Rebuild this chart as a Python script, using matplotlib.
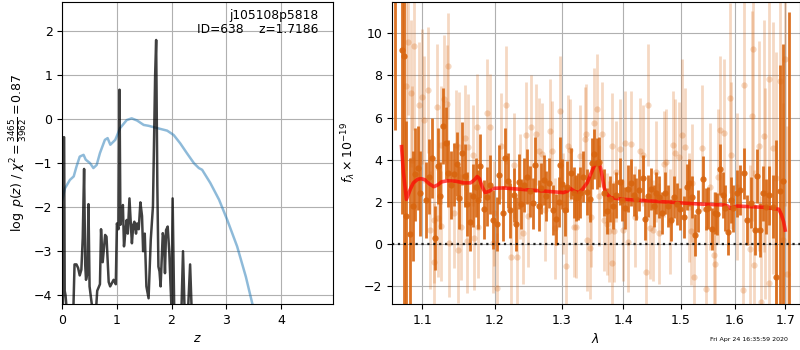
import matplotlib
matplotlib.use("Agg")
from matplotlib import pyplot as plt
from matplotlib.ticker import FixedLocator, FixedFormatter, NullLocator

# ---- left panel: log p(z) ----
z_pz = [0.0, 0.015, 0.025, 0.035, 0.045, 0.06, 0.08, 0.2, 0.225, 0.26,
        0.29, 0.32, 0.35, 0.375, 0.40, 0.42, 0.435, 0.46, 0.48, 0.50,
        0.53, 0.57, 0.62, 0.64, 0.69, 0.71, 0.74, 0.785, 0.81, 0.85,
        0.877, 0.94, 0.98, 1.00, 1.03, 1.048, 1.065, 1.09, 1.11, 1.13,
        1.16, 1.18, 1.20, 1.23, 1.26, 1.275, 1.30, 1.32, 1.35, 1.37,
        1.40, 1.43, 1.46, 1.48, 1.51, 1.54, 1.58, 1.62, 1.66, 1.70,
        1.7186, 1.74, 1.76, 1.78, 1.80, 1.84, 1.86, 1.88, 1.90, 1.93,
        1.96, 1.98, 2.00, 2.02, 2.05, 2.10, 2.18, 2.21, 2.24, 2.30,
        2.34, 2.37, 2.40]
logp = [-5.0, -4.0, -0.41, -0.41, -3.9, -4.0, -4.3, -4.5, -3.3, -3.3,
        -3.38, -3.55, -3.42, -2.7, -1.13, -3.3, -3.65, -3.5, -1.93, -3.8,
        -4.1, -4.5, -4.3, -3.9, -3.75, -2.5, -3.25, -2.63, -2.67, -3.7,
        -3.8, -3.65, -3.75, -2.37, -2.5, 0.67, -2.4, -2.1, -1.95, -2.89,
        -2.5, -2.29, -2.6, -1.8, -2.5, -2.82, -2.4, -2.33, -2.6, -2.37,
        -2.5, -1.89, -2.2, -3.0, -2.6, -3.8, -4.07, -2.74, -1.98, 1.0,
        1.8, -1.5, -3.35, -3.46, -3.8, -2.59, -2.7, -3.5, -2.52, -2.44,
        -3.05, -3.72, -4.3, -1.8, -4.4, -4.6, -4.4, -3.0, -4.4, -4.4,
        -3.3, -4.4, -4.6]

z_chi = [0.0, 0.05, 0.14, 0.21, 0.26, 0.32, 0.39, 0.43, 0.51, 0.57,
         0.63, 0.69, 0.78, 0.83, 0.88, 0.97, 1.06, 1.18, 1.27, 1.37,
         1.49, 1.58, 1.73, 1.92, 2.04, 2.16, 2.28, 2.41, 2.50, 2.56,
         2.71, 2.87, 3.02, 3.20, 3.36, 3.48, 3.60]
chi_curve = [-1.83, -1.57, -1.38, -1.30, -1.08, -0.85, -0.81, -0.92, -1.0, -1.11,
             -1.04, -0.77, -0.47, -0.43, -0.58, -0.47, -0.2, -0.02, 0.02, -0.03,
             -0.13, -0.15, -0.2, -0.26, -0.36, -0.55, -0.77, -1.0, -1.11, -1.15,
             -1.45, -1.83, -2.29, -2.89, -3.58, -4.2, -4.9]

# ---- right panel: spectrum ----
wave_dark = [1.0645, 1.0727, 1.0756, 1.0787, 1.0833, 1.0877, 1.0897, 1.0936, 1.0971, 1.1047,
             1.1088, 1.1124, 1.1170, 1.1202, 1.1233, 1.1274, 1.1311, 1.1343, 1.1380, 1.1425,
             1.1466, 1.1499, 1.1535, 1.1572, 1.1609, 1.1645, 1.1682, 1.1727, 1.1755, 1.1792,
             1.1842, 1.1883, 1.1929, 1.1967, 1.2030, 1.2060, 1.2111, 1.2151, 1.2196, 1.2221,
             1.2271, 1.2312, 1.2352, 1.2387, 1.2422, 1.2473, 1.2512, 1.2553, 1.2593, 1.2648,
             1.2684, 1.2723, 1.2764, 1.2804, 1.2873, 1.2914, 1.2955, 1.2970, 1.3005, 1.3049,
             1.3091, 1.3146, 1.3188, 1.3221, 1.3253, 1.3297, 1.3341, 1.3406, 1.3448, 1.3487,
             1.3513, 1.3557, 1.3589, 1.3675, 1.3731, 1.3773, 1.3828, 1.3882, 1.3946, 1.3979,
             1.4025, 1.4071, 1.4131, 1.4176, 1.4219, 1.4272, 1.4325, 1.4365, 1.4413, 1.4471,
             1.4519, 1.4559, 1.4617, 1.4660, 1.4718, 1.4776, 1.4824, 1.4882, 1.4930, 1.4977,
             1.5061, 1.5105, 1.5147, 1.5197, 1.5258, 1.5319, 1.5405, 1.5455, 1.5492, 1.5565,
             1.5626, 1.5663, 1.5713, 1.5773, 1.5823, 1.5871, 1.5921, 1.5971, 1.6047, 1.6099,
             1.6177, 1.6245, 1.6310, 1.6389, 1.6442, 1.6493, 1.6560, 1.6611, 1.6679, 1.6744,
             1.6823, 1.6888, 1.6955, 1.7085]
flux_dark = [12.0, 9.2, 8.9, 1.33, 0.46, 1.8, 3.3, 3.6, 2.4, 2.1,
             3.2, 4.1, 0.28, 3.7, 2.3, 5.6, 4.8, 3.35, 2.8, 3.3,
             3.8, 2.2, 4.3, 3.25, 1.9, 1.06, 2.3, 2.7, 2.1, 3.7,
             1.65, 2.25, 2.8, 1.14, 0.95, 3.28, 1.46, 4.1, 3.0, 1.6,
             2.33, 0.95, 2.96, 1.9, 2.8, 3.2, 2.5, 1.93, 3.77, 1.82,
             2.64, 3.04, 2.28, 2.9, 1.61, 1.17, 2.0, 3.77, 2.85, 1.6,
             2.72, 3.35, 2.44, 2.17, 2.25, 2.44, 3.2, 2.48, 2.12, 3.83,
             4.27, 3.83, 3.9, 2.44, 1.58, 2.15, 1.8, 2.33, 2.96, 2.09,
             1.69, 2.63, 2.91, 2.34, 2.12, 2.56, 3.12, 1.17, 2.28, 2.6,
             1.8, 2.44, 2.22, 1.46, 2.41, 1.8, 1.14, 2.25, 1.9, 1.65,
             1.27, 2.72, 2.91, 2.25, 0.43, 1.58, 3.07, 1.65, 1.69, 0.7,
             1.46, 1.42, 3.54, 2.33, 1.71, 0.59, 2.09, 1.69, 2.4, 2.56,
             3.35, 1.14, 1.96, 0.66, 3.23, 0.66, 2.4, 1.77, 2.31, 1.77,
             -1.58, 2.5, 3.0, -3.5]
err_dark = [6.6, 7.8, 12.0, 4.5, 3.6, 2.6, 2.2, 2.0, 2.0, 1.8,
            1.8, 1.9, 1.5, 1.8, 1.6, 1.8, 1.7, 1.6, 1.6, 1.5,
            1.5, 1.5, 1.5, 1.5, 1.5, 1.4, 1.5, 1.4, 1.4, 1.5,
            1.4, 1.4, 1.4, 1.4, 1.3, 1.4, 1.3, 1.4, 1.3, 1.3,
            1.3, 1.3, 1.3, 1.2, 1.3, 1.3, 1.2, 1.2, 1.3, 1.2,
            1.2, 1.2, 1.2, 1.2, 1.2, 1.2, 1.2, 1.3, 1.2, 1.2,
            1.2, 1.2, 1.2, 1.1, 1.1, 1.2, 1.2, 1.1, 1.1, 1.2,
            1.2, 1.2, 1.2, 1.1, 1.1, 1.1, 1.1, 1.1, 1.1, 1.0,
            1.0, 1.1, 1.1, 1.0, 1.0, 1.0, 1.1, 1.0, 1.0, 1.0,
            1.0, 1.0, 1.0, 1.0, 1.0, 1.0, 1.0, 1.0, 1.0, 1.0,
            1.0, 1.1, 1.1, 1.0, 1.0, 1.0, 1.1, 1.0, 1.0, 1.0,
            1.0, 1.0, 1.2, 1.1, 1.1, 1.1, 1.1, 1.1, 1.1, 1.2,
            1.2, 1.2, 1.2, 1.2, 1.3, 1.3, 1.3, 1.3, 1.4, 1.5,
            6.5, 6.0, 6.5, 14.5]

wave_light = [1.0782, 1.0807, 1.0851, 1.0859, 1.0884, 1.0954, 1.1000, 1.1014, 1.1069, 1.1096,
              1.1151, 1.1158, 1.1198, 1.1206, 1.1243, 1.1252, 1.1288, 1.1334, 1.1343, 1.1362,
              1.1425, 1.1448, 1.1485, 1.1493, 1.1517, 1.1572, 1.1599, 1.1617, 1.1691, 1.1699,
              1.1746, 1.1755, 1.1892, 1.1929, 1.1974, 1.1992, 1.2030, 1.2081, 1.2161, 1.2232,
              1.2282, 1.2322, 1.2372, 1.2413, 1.2452, 1.2482, 1.2523, 1.2603, 1.2648, 1.2693,
              1.2749, 1.2814, 1.2854, 1.2899, 1.2979, 1.3016, 1.3070, 1.3097, 1.3135, 1.3199,
              1.3232, 1.3297, 1.3367, 1.3390, 1.3406, 1.3443, 1.3459, 1.3513, 1.3557, 1.3589,
              1.3643, 1.3675, 1.3719, 1.3763, 1.3805, 1.3817, 1.3849, 1.3882, 1.3935, 1.4000,
              1.4035, 1.4071, 1.4131, 1.4189, 1.4282, 1.4330, 1.4377, 1.4423, 1.4458, 1.4506,
              1.4564, 1.4612, 1.4695, 1.4741, 1.4800, 1.4859, 1.4894, 1.4965, 1.5013, 1.5074,
              1.5147, 1.5184, 1.5208, 1.5245, 1.5393, 1.5455, 1.5529, 1.5602, 1.5626, 1.5676,
              1.5713, 1.5797, 1.5908, 1.5921, 1.6047, 1.6165, 1.6177, 1.6296, 1.6335, 1.6363,
              1.6375, 1.6468, 1.6507, 1.6572, 1.6586, 1.6665, 1.6679, 1.6758, 1.6823, 1.6888,
              1.6955, 1.6994, 1.7033]
flux_light = [7.5, 9.6, 7.15, 4.0, 9.4, 6.6, 7.0, 5.9, 7.3, 0.66,
              1.15, -0.85, 6.5, 1.25, 0.85, 4.7, 6.9, 6.65, 8.45, 0.06,
              1.45, 4.7, -0.3, 4.6, 0.8, 5.05, 0.15, 4.6, 4.2, 0.3,
              5.55, 0.8, 6.2, 5.55, 0.06, 1.45, -2.1, 4.65, 6.6, -0.63,
              3.73, -0.63, 2.72, 0.5, 5.17, 1.33, 5.54, 5.2, 4.43, 4.27,
              1.6, 5.35, 4.4, 0.74, 6.3, 1.93, -1.04, 4.65, 4.46, 0.82,
              0.8, 4.18, 4.97, 5.2, 0.19, -0.2, 1.3, 5.76, 6.4, 2.3,
              5.2, 1.14, 0.95, 0.6, 4.65, -0.89, 0.6, 3.43, 4.5, 0.66,
              4.78, 0.11, 4.75, 1.3, 4.43, 4.22, -1.31, 6.6, 0.74, 0.66,
              3.43, 0.5, 3.8, 3.9, 1.06, 4.68, 4.3, 4.15, 5.16, 4.62,
              1.74, 0.63, 2.91, -1.55, 4.56, -2.15, 2.72, -0.54, -0.95, 3.2,
              5.41, 5.28, 6.93, 4.21, 2.72, -2.18, 7.55, -0.25, 6.08, 9.24,
              -1.0, 4.65, -2.74, 5.13, 2.41, 7.82, -1.84, 4.56, 3.12, 7.75,
              0.19, 8.8, -1.42]
err_light = [4.0, 3.5, 3.5, 3.5, 4.0, 3.0, 3.2, 3.0, 3.0, 2.8,
             3.0, 2.8, 3.0, 2.8, 2.6, 2.8, 3.0, 2.8, 2.5, 2.6,
             2.6, 2.6, 2.5, 2.6, 2.5, 2.5, 2.5, 2.5, 2.4, 2.5,
             2.5, 2.4, 2.6, 2.5, 2.4, 2.5, 2.6, 2.5, 2.8, 2.4,
             2.5, 2.4, 2.5, 2.4, 2.5, 2.4, 2.5, 2.4, 2.5, 2.4,
             2.4, 2.5, 2.4, 2.4, 2.6, 2.4, 2.5, 2.4, 2.4, 2.4,
             2.4, 2.4, 2.5, 2.4, 2.4, 2.4, 2.4, 2.6, 2.6, 2.4,
             2.5, 2.4, 2.4, 2.4, 2.5, 2.4, 2.4, 2.4, 2.4, 2.4,
             2.5, 2.4, 2.5, 2.4, 2.5, 2.4, 2.5, 2.9, 2.4, 2.4,
             2.4, 2.4, 2.5, 2.5, 2.5, 2.6, 2.6, 2.6, 3.6, 2.8,
             2.6, 2.6, 2.8, 2.8, 3.0, 3.0, 3.0, 3.0, 3.0, 3.2,
             3.5, 3.5, 4.5, 3.5, 3.5, 4.0, 5.0, 4.0, 5.0, 6.0,
             4.5, 5.0, 5.0, 5.5, 5.0, 6.0, 5.5, 6.0, 6.0, 6.5,
             6.5, 7.0, 7.0]

wave_model = [1.0727, 1.0751, 1.0790, 1.0841, 1.0880, 1.0936, 1.0983, 1.1037, 1.1092, 1.1151,
              1.1202, 1.1256, 1.1334, 1.1448, 1.1563, 1.1654, 1.1709, 1.1746, 1.1778, 1.1819,
              1.1860, 1.1915, 1.1974, 1.2121, 1.2523, 1.3026, 1.3086, 1.3135, 1.3199, 1.3269,
              1.3329, 1.3406, 1.3459, 1.3513, 1.3557, 1.3594, 1.3621, 1.3649, 1.3678, 1.3703,
              1.3784, 1.4000, 1.4706, 1.5307, 1.5797, 1.5865, 1.5921, 1.5976, 1.6047, 1.6572,
              1.6869, 1.6922, 1.6968, 1.7000]
flux_model = [4.62, 3.4, 2.12, 2.6, 2.9, 3.07, 3.1, 3.04, 2.85, 2.72,
              2.8, 2.95, 3.0, 2.98, 2.9, 2.9, 3.05, 3.2, 3.1, 2.7,
              2.44, 2.5, 2.64, 2.66, 2.56, 2.44, 2.5, 2.64, 2.5, 2.44,
              2.6, 2.91, 3.3, 3.67, 3.85, 3.9, 3.6, 3.2, 2.7, 2.44,
              2.2, 2.12, 2.0, 1.9, 1.85, 1.8, 1.69, 1.74, 1.8, 1.74,
              1.65, 1.4, 1.06, 0.66]

wave_ticks = [1.1, 1.2, 1.3, 1.4, 1.5, 1.6, 1.7]

orange = '#d8650f'

fig = plt.figure(figsize=(8, 3.5), dpi=100)
ax1 = fig.add_axes([0.0778, 0.1314, 0.3388, 0.8637])
ax2 = fig.add_axes([0.49, 0.1314, 0.5094, 0.8637])

ax1.plot(z_chi, chi_curve, color='tab:blue', alpha=0.5, lw=1.8)
ax1.plot(z_pz, logp, color='k', alpha=0.75, lw=1.8)
ax1.set_xlim(0, 4.96)
ax1.set_ylim(-4.2, 2.67)
ax1.set_xticks([0, 1, 2, 3, 4])
ax1.set_yticks([-4, -3, -2, -1, 0, 1, 2])
ax1.grid(True)
ax1.set_xlabel(r'$z$', fontsize=9)
ax1.set_ylabel(r'$\log\ p(z)$ / $\chi^2=\frac{3465}{3962}=0.87$', fontsize=9)
ax1.text(0.945, 0.975, 'j105108p5818\nID=638    z=1.7186', transform=ax1.transAxes,
         ha='right', va='top', fontsize=8.8, linespacing=1.05)

ax2.errorbar(wave_light, flux_light, yerr=err_light, fmt='o', color=orange, alpha=0.25,
             ms=4.5, elinewidth=2, ecolor=orange, mec='none')
ax2.errorbar(wave_dark, flux_dark, yerr=err_dark, fmt='o', color=orange, alpha=0.9,
             ms=4.5, elinewidth=2, ecolor=orange, mec='none')
ax2.plot(wave_model, flux_model, color='r', alpha=0.7, lw=2.6)
ax2.axhline(0, color='k', linestyle=':', lw=1.6, alpha=0.85)
ax2.set_xscale('log')
ax2.xaxis.set_major_locator(FixedLocator(wave_ticks))
ax2.xaxis.set_major_formatter(FixedFormatter([f'{w:.1f}' for w in wave_ticks]))
ax2.xaxis.set_minor_locator(NullLocator())
ax2.set_xlim(1.0605, 1.7295)
ax2.set_ylim(-2.85, 11.5)
ax2.set_yticks([-2, 0, 2, 4, 6, 8, 10])
ax2.grid(True)
ax2.set_xlabel(r'$\lambda$', fontsize=9)
ax2.set_ylabel(r'$f_\lambda\times10^{-19}$', fontsize=9)

for ax in (ax1, ax2):
    ax.tick_params(labelsize=9)

fig.text(0.985, 0.031, 'Fri Apr 24 16:35:59 2020', ha='right', va='center', fontsize=4.5)

fig.savefig('out.png', dpi=100)
